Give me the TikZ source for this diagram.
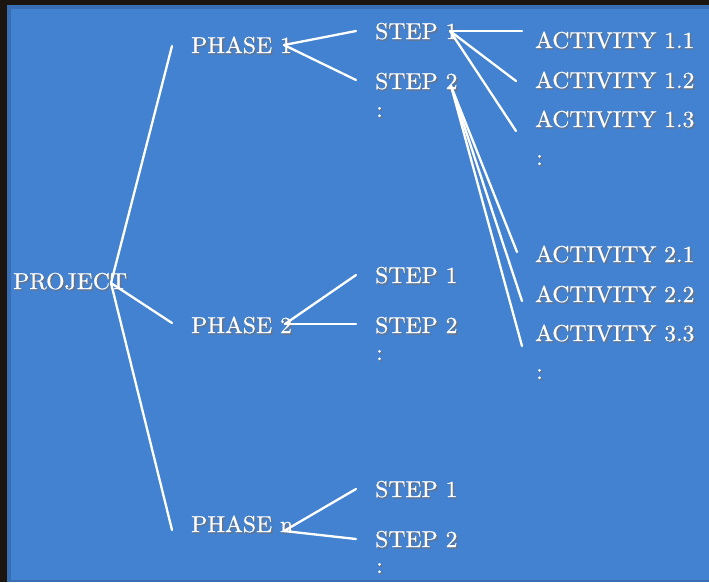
\documentclass[tikz,border=0pt]{standalone}
\usepackage{fontspec}
\setmainfont{lmroman10-regular.otf}[FakeBold=0.6,FakeStretch=1.03]
\usetikzlibrary{positioning}
\definecolor{bgblue}{RGB}{66,130,208}
\definecolor{edgeblue}{RGB}{55,110,180}
\definecolor{darkframe}{RGB}{28,20,14}
\definecolor{shd}{RGB}{105,115,135}
\newcommand\shtxt[1]{\rlap{\kern1.5pt\raisebox{-1.5pt}{\textcolor{shd}{#1}}}\textcolor{white}{#1}}
\tikzset{
  lbl/.style={anchor=base west, inner sep=0pt, font=\fontsize{23}{26}\selectfont},
  link/.style={draw=white, line width=2.3pt, line cap=round}
}
\begin{document}
\begin{tikzpicture}[x=1pt,y=-1pt]
\useasboundingbox (0,0) rectangle (709,582);
% background
\fill[darkframe] (0,0) rectangle (709,582);
\fill[edgeblue] (7,5) rectangle (709,582);
\fill[bgblue] (11,9) rectangle (709,580);
% text nodes
\node[lbl] (project) at (13,289) {\shtxt{PROJECT}};
\node[lbl] (ph1) at (191,53) {\shtxt{PHASE 1}};
\node[lbl] (ph2) at (191,333) {\shtxt{PHASE 2}};
\node[lbl] (phn) at (191,532) {\shtxt{PHASE n}};
\node[lbl] (s11) at (375,39) {\shtxt{STEP 1}};
\node[lbl] (s12) at (375,89) {\shtxt{STEP 2}};
\node[lbl] (c12) at (376,117) {\shtxt{:}};
\node[lbl] (s21) at (375,283) {\shtxt{STEP 1}};
\node[lbl] (s22) at (375,333) {\shtxt{STEP 2}};
\node[lbl] (c22) at (376,360) {\shtxt{:}};
\node[lbl] (sn1) at (375,497) {\shtxt{STEP 1}};
\node[lbl] (sn2) at (375,547) {\shtxt{STEP 2}};
\node[lbl] (cn2) at (376,573) {\shtxt{:}};
\node[lbl] (a11) at (535,48) {\shtxt{ACTIVITY 1.1}};
\node[lbl] (a12) at (535,88) {\shtxt{ACTIVITY 1.2}};
\node[lbl] (a13) at (535,127) {\shtxt{ACTIVITY 1.3}};
\node[lbl] (ca1) at (536,165) {\shtxt{:}};
\node[lbl] (a21) at (535,262) {\shtxt{ACTIVITY 2.1}};
\node[lbl] (a22) at (535,302) {\shtxt{ACTIVITY 2.2}};
\node[lbl] (a33) at (535,341) {\shtxt{ACTIVITY 3.3}};
\node[lbl] (ca3) at (536,379) {\shtxt{:}};
% connector points
\coordinate (jp) at (111,283);
\coordinate (ep1) at (172,46);
\coordinate (ep2) at (172,323);
\coordinate (epn) at (172,530);
\coordinate (j1) at (284,45);
\coordinate (e11) at (356,31);
\coordinate (e12) at (356,80);
\coordinate (j2) at (285,324);
\coordinate (e21) at (356,275);
\coordinate (e22) at (356,324);
\coordinate (jn) at (284,531);
\coordinate (en1) at (356,489);
\coordinate (en2) at (356,539);
\coordinate (js1) at (450,31);
\coordinate (f11) at (522,31);
\coordinate (f12) at (516,81);
\coordinate (f13) at (516,131);
\coordinate (js2) at (451,86);
\coordinate (f21) at (517,252);
\coordinate (f22) at (522,301);
\coordinate (f33) at (522,346);
% connectors
\draw[link] (jp) -- (ep1);
\draw[link] (jp) -- (ep2);
\draw[link] (jp) -- (epn);
\draw[link] (j1) -- (e11);
\draw[link] (j1) -- (e12);
\draw[link] (j2) -- (e21);
\draw[link] (j2) -- (e22);
\draw[link] (jn) -- (en1);
\draw[link] (jn) -- (en2);
\draw[link] (js1) -- (f11);
\draw[link] (js1) -- (f12);
\draw[link] (js1) -- (f13);
\draw[link] (js2) -- (f21);
\draw[link] (js2) -- (f22);
\draw[link] (js2) -- (f33);
\end{tikzpicture}
\end{document}
